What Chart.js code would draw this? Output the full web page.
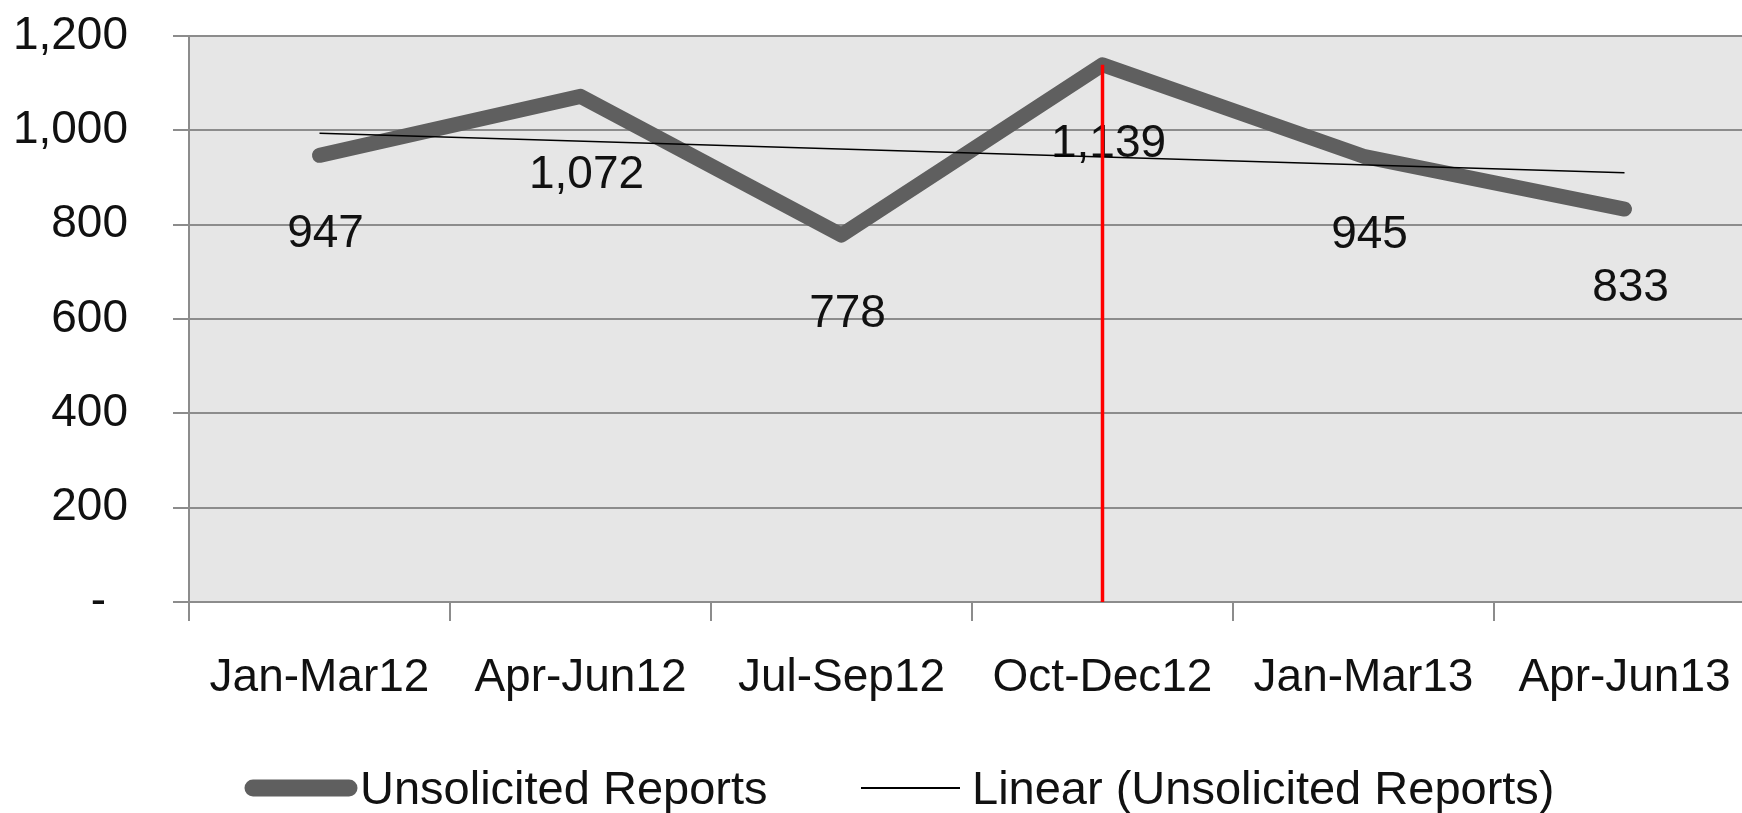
<!DOCTYPE html>
<html>
<head>
<meta charset="utf-8">
<title>Unsolicited Reports</title>
<script src="https://cdn.jsdelivr.net/npm/chart.js@4.4.1/dist/chart.umd.min.js"></script>
<style>
  html, body { margin: 0; padding: 0; overflow: hidden; background: #fff; }
  #wrap { width: 1756px; height: 813px; }
</style>
</head>
<body>
<div id="wrap"><canvas id="myChart" width="1756" height="813"></canvas></div>
<script>
// data
const quarters = ['Jan-Mar12', 'Apr-Jun12', 'Jul-Sep12', 'Oct-Dec12', 'Jan-Mar13', 'Apr-Jun13'];
const reports = [947, 1072, 778, 1139, 945, 833];
// linear trend: only its two ends, the line spans the gap
const trendEnds = [994, null, null, null, null, 910];
// red marker line
const markerQuarter = 'Oct-Dec12';
const markerTop = 1139;
const yMin = 0, yMax = 1200, yStep = 200;

const FONT = "'Liberation Sans', Arial, sans-serif";
const GRID = '#8c8c8c';

function fmt(v) {
	return v === 0 ? '- \u2009' : v.toLocaleString('en-US');
}

// grey plot background
const plotBg = {
	id: 'plotBg',
	beforeDraw(chart) {
		const a = chart.chartArea;
		const ctx = chart.ctx;
		ctx.save();
		ctx.fillStyle = '#e6e6e6';
		ctx.fillRect(a.left, a.top, a.right - a.left, a.bottom - a.top);
		ctx.restore();
	}
};

// value labels under the thick line (drawn before trend and red line)
const valueLabels = {
	id: 'valueLabels',
	afterDatasetDraw(chart, args) {
		if (args.index !== 0) return;
		const ctx = chart.ctx;
		const vals = chart.data.datasets[0].data;
		ctx.save();
		ctx.font = '46px ' + FONT;
		ctx.fillStyle = '#111';
		ctx.textAlign = 'center';
		ctx.textBaseline = 'alphabetic';
		args.meta.data.forEach(function (pt, i) {
			ctx.fillText(fmt(vals[i]), pt.x + 6, pt.y + 92);
		});
		ctx.restore();
	}
};

// legend drawn by hand so the sample lines sit close to the text
const bottomLegend = {
	id: 'bottomLegend',
	afterDraw(chart) {
		const ctx = chart.ctx;
		const items = [
			{ from: 253, to: 349, text: 360, width: 17, cap: 'round' },
			{ from: 861, to: 960, text: 972, width: 2, cap: 'butt' }
		];
		const y = 788;
		ctx.save();
		ctx.font = '47px ' + FONT;
		ctx.fillStyle = '#111';
		ctx.textBaseline = 'alphabetic';
		ctx.textAlign = 'left';
		items.forEach(function (it, k) {
			const ds = chart.data.datasets[k];
			ctx.beginPath();
			ctx.strokeStyle = ds.borderColor;
			ctx.lineWidth = it.width;
			ctx.lineCap = it.cap;
			ctx.moveTo(it.from, y);
			ctx.lineTo(it.to, y);
			ctx.stroke();
			ctx.fillText(ds.label, it.text, 804);
		});
		ctx.restore();
	}
};

const ctx = document.getElementById('myChart').getContext('2d');
let myChart = new Chart(ctx, {
	type: 'line',
	data: {
		labels: quarters,
		datasets: [{
			label: 'Unsolicited Reports',
			data: reports,
			borderColor: '#5f5f5f',
			borderWidth: 15,
			borderCapStyle: 'round',
			borderJoinStyle: 'round',
			pointRadius: 0,
			tension: 0,
			order: 3
		}, {
			label: 'Linear (Unsolicited Reports)',
			data: trendEnds,
			borderColor: '#000000',
			borderWidth: 1.5,
			pointRadius: 0,
			spanGaps: true,
			order: 2
		}, {
			label: 'marker',
			data: [{x: markerQuarter, y: markerTop}, {x: markerQuarter, y: 0}],
			borderColor: '#ff0000',
			borderWidth: 3.5,
			pointRadius: 0,
			order: 1
		}]
	},
	options: {
		responsive: false,
		animation: false,
		layout: { padding: { top: 36, right: 1, left: 0, bottom: 101 } },
		plugins: {
			legend: { display: false },
			tooltip: { enabled: false }
		},
		scales: {
			x: {
				offset: true,
				afterFit: function (s) {
					s.height = 110;
					s.paddingLeft = 0; s.paddingRight = 0;
					s.paddingTop = 0; s.paddingBottom = 0;
				},
				grid: { offset: true, drawOnChartArea: false, color: GRID, lineWidth: 2, tickLength: 19 },
				border: { display: true, color: GRID, width: 2 },
				ticks: {
					font: { family: FONT, size: 46 },
					color: '#111',
					padding: 30,
					maxRotation: 0,
					autoSkip: false
				}
			},
			y: {
				min: yMin,
				max: yMax,
				afterFit: function (s) {
					s.width = 189;
					s.paddingTop = 0; s.paddingBottom = 0;
					s.paddingLeft = 0; s.paddingRight = 0;
				},
				grid: { color: GRID, lineWidth: 2, tickLength: 16 },
				border: { display: true, color: GRID, width: 2 },
				ticks: {
					stepSize: yStep,
					font: { family: FONT, size: 46 },
					color: '#111',
					padding: 45,
					callback: function (v) { return fmt(v); }
				}
			}
		}
	},
	plugins: [plotBg, valueLabels, bottomLegend]
});
</script>
</body>
</html>
